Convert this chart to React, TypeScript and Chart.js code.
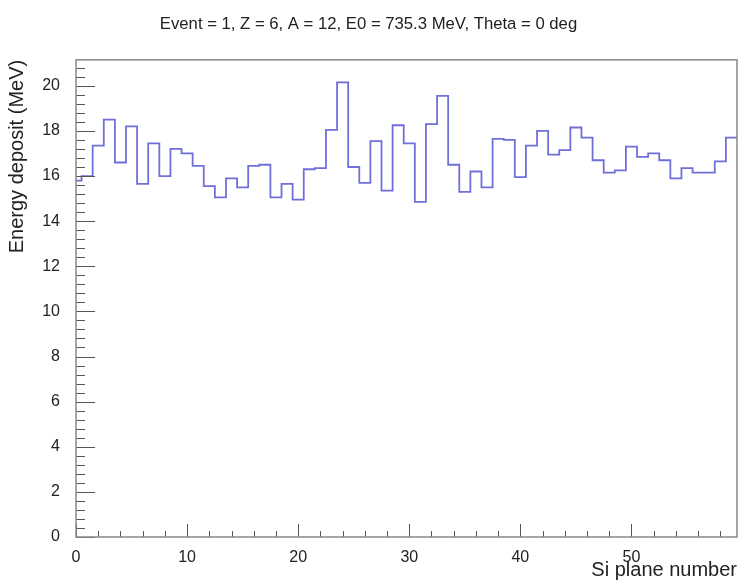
import React, { useEffect, useRef } from "react";
import { Chart, registerables } from "chart.js";

Chart.register(...registerables);

const TITLE = "Event = 1, Z = 6, A = 12, E0 = 735.3 MeV, Theta = 0 deg";
const X_TITLE = "Si plane number";
const Y_TITLE = "Energy deposit (MeV)";

// Si plane numbers (bin centres)
const planes: number[] = Array.from({ length: 60 }, (_, i) => i);

// Energy deposit per plane (MeV)
const energy: number[] = [
  15.8, 16.0, 17.35, 18.5, 16.6, 18.2, 15.65, 17.45, 16.0, 17.2,
  17.0, 16.45, 15.55, 15.05, 15.9, 15.5, 16.45, 16.5, 15.05, 15.65,
  14.95, 16.3, 16.35, 18.05, 20.15, 16.4, 15.7, 17.55, 15.35, 18.25,
  17.45, 14.85, 18.3, 19.55, 16.5, 15.3, 16.2, 15.5, 17.65, 17.6,
  15.95, 17.35, 18.0, 16.95, 17.15, 18.15, 17.7, 16.7, 16.15, 16.25,
  17.3, 16.85, 17.0, 16.7, 15.9, 16.35, 16.15, 16.15, 16.65, 17.7,
];

const X_MIN = 0;
const X_MAX = 59.5;
const Y_MIN = 0;
const Y_MAX = 21.15;
const X_MAJOR = 10;
const X_MINOR = 2;
const Y_MAJOR = 2;
const Y_MINOR = 0.4;

const FONT = "'Liberation Sans', Arial, Helvetica, sans-serif";

const framePlugin = {
  id: "rootFrame",
  afterDatasetsDraw(chart: any) {
    const { ctx, chartArea, scales } = chart;
    const { left, right, top, bottom } = chartArea;
    const x = scales.x;
    const y = scales.y;
    ctx.save();
    ctx.strokeStyle = "#555";
    ctx.lineWidth = 1;
    ctx.beginPath();
    const ny = Math.round((Y_MAX - Y_MIN) / Y_MINOR);
    for (let i = 0; i <= ny; i++) {
      const v = Y_MIN + i * Y_MINOR;
      if (v > Y_MAX + 1e-9) break;
      const py = Math.round(y.getPixelForValue(v)) + 0.5;
      const r = v / Y_MAJOR;
      const major = Math.abs(r - Math.round(r)) < 1e-6;
      const len = major ? 19 : 9;
      ctx.moveTo(left, py);
      ctx.lineTo(left + len, py);
    }
    const nx = Math.round((X_MAX - X_MIN) / X_MINOR);
    for (let i = 0; i <= nx; i++) {
      const v = X_MIN + i * X_MINOR;
      if (v > X_MAX + 1e-9) break;
      const px = Math.round(x.getPixelForValue(v)) + 0.5;
      const r = v / X_MAJOR;
      const major = Math.abs(r - Math.round(r)) < 1e-6;
      const len = major ? 13 : 6;
      ctx.moveTo(px, bottom);
      ctx.lineTo(px, bottom - len);
    }
    ctx.stroke();
    ctx.strokeStyle = "#888";
    ctx.lineWidth = 1.5;
    ctx.strokeRect(left, top, right - left, bottom - top);
    ctx.restore();
  },
};

export default function App() {
  const ref = useRef<HTMLCanvasElement | null>(null);

  useEffect(() => {
    document.body.style.margin = "0";
    if (!ref.current) return;
    // Histogram outline: each bin held from its low edge to its high edge
    const pts = planes.map((p, i) => ({ x: p - 0.5, y: energy[i] }));
    pts.push({ x: planes[planes.length - 1] + 0.5, y: energy[energy.length - 1] });

    const chart = new Chart(ref.current, {
      type: "line",
      data: {
        datasets: [
          {
            data: pts,
            stepped: "before",
            borderColor: "rgba(95,95,215,0.9)",
            borderWidth: 1.8,
            pointRadius: 0,
            fill: false,
          },
        ],
      },
      options: {
        responsive: false,
        animation: false,
        devicePixelRatio: 1,
        layout: { padding: { left: 0, right: 2, top: 0, bottom: 0 } },
        plugins: {
          legend: { display: false },
          tooltip: { enabled: false },
          title: {
            display: true,
            text: TITLE,
            color: "#222",
            font: { family: FONT, size: 16.7, weight: "normal" },
            padding: { top: 14, bottom: 25.8 },
          },
        },
        scales: {
          x: {
            type: "linear",
            min: X_MIN,
            max: X_MAX,
            grid: { display: false },
            border: { display: false },
            ticks: {
              stepSize: X_MAJOR,
              color: "#222",
              font: { family: FONT, size: 16 },
              padding: 3,
              maxRotation: 0,
              callback: (v: any) => String(v),
            },
            afterBuildTicks: (s: any) => {
              s.ticks = s.ticks.filter((t: any) => t.value % X_MAJOR === 0);
            },
            afterFit: (s: any) => {
              s.height = 45;
            },
            title: {
              display: true,
              text: X_TITLE,
              align: "end",
              color: "#222",
              font: { family: FONT, size: 20 },
              padding: { top: 0, bottom: 0 },
            },
          },
          y: {
            type: "linear",
            min: Y_MIN,
            max: Y_MAX,
            grid: { display: false },
            border: { display: false },
            ticks: {
              stepSize: Y_MAJOR,
              color: "#222",
              font: { family: FONT, size: 16 },
              padding: 8,
              callback: (v: any) => String(v),
            },
            afterBuildTicks: (s: any) => {
              s.ticks = s.ticks.filter((t: any) => t.value % Y_MAJOR === 0);
            },
            afterFit: (s: any) => {
              s.width = 76;
            },
            title: {
              display: true,
              text: Y_TITLE,
              align: "end",
              color: "#222",
              font: { family: FONT, size: 20 },
              padding: { top: 5, bottom: 0 },
            },
          },
        },
      },
      plugins: [framePlugin],
    });
    return () => chart.destroy();
  }, []);

  return (
    <div style={{ width: 739, height: 582 }}>
      <canvas ref={ref} width={739} height={582} style={{ display: "block" }} />
    </div>
  );
}
